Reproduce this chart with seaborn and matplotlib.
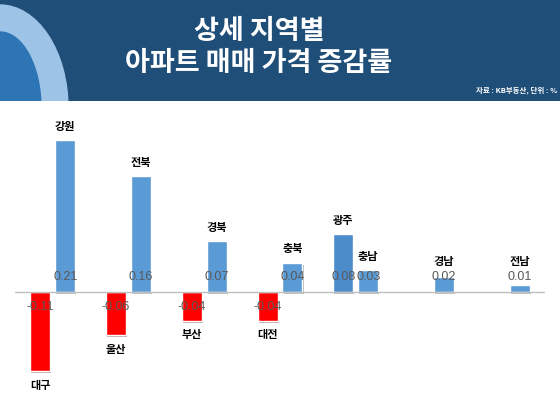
import numpy as np
import pandas as pd
import matplotlib
matplotlib.use('Agg')
import matplotlib.pyplot as plt
import matplotlib.patches as patches
import matplotlib.patheffects as pe
import seaborn as sns

# data: 7 pairs, left slot / right slot
groups = ['g1', 'g2', 'g3', 'g4', 'g5', 'g6', 'g7']
left_regions = ['대구', '울산', '부산', '대전', '광주', None, None]
left_values = [-0.11, -0.06, -0.04, -0.04, 0.08, np.nan, np.nan]
right_regions = ['강원', '전북', '경북', '충북', '충남', '경남', '전남']
right_values = [0.21, 0.16, 0.07, 0.04, 0.03, 0.02, 0.01]

title = '상세 지역별\n아파트 매매 가격 증감률'
source = '자료 : KB부동산, 단위 : %'

df = pd.concat([
    pd.DataFrame({'group': groups, 'side': 'L', 'region': left_regions, 'value': left_values}),
    pd.DataFrame({'group': groups, 'side': 'R', 'region': right_regions, 'value': right_values}),
]).dropna(subset=['value'])

sns.set_style('white')
plt.rcParams['font.family'] = ['Noto Sans CJK KR', 'DejaVu Sans']

fig = plt.figure(figsize=(5.6, 3.98), dpi=100)

# header band
hdr = fig.add_axes([0, 297 / 398, 1, 101 / 398])
hdr.set_xlim(0, 560)
hdr.set_ylim(101, 0)
hdr.axis('off')
hdr.add_patch(patches.Rectangle((0, 0), 560, 101, color='#1f4e79'))
hdr.add_patch(patches.Ellipse((0, 108), 136, 206, color='#9dc3e6'))
hdr.add_patch(patches.Ellipse((0, 108), 82, 152, color='#2e75b6'))
hdr.text(259, 47, title, color='white', fontsize=19.5, fontweight='bold',
         ha='center', va='center', linespacing=1.2)
hdr.text(557, 90, source, color='white', fontsize=5.4, fontweight='bold',
         ha='right', va='center')

# bars
ax = fig.add_axes([15 / 560, 5 / 398, 530 / 560, 282 / 398])
sns.barplot(data=df, x='group', y='value', hue='side', order=groups, hue_order=['L', 'R'],
            width=0.66, gap=0.2, errorbar=None, legend=False, ax=ax,
            palette={'L': '#ff0000', 'R': '#5b9bd5'}, saturation=1)
ax.set_ylim(-0.14, 0.25)
ax.set_xlim(-0.5, len(groups) - 0.5)
ax.axis('off')
ax.axhline(0, color='#bfbfbf', lw=1, zorder=1)

shadow = [pe.SimplePatchShadow(offset=(0.8, -1.5), alpha=0.35), pe.Normal()]
for cont, side in zip(ax.containers, ['L', 'R']):
    sub = df[df['side'] == side]
    for bar, (_, row) in zip(cont, sub.iterrows()):
        v = row['value']
        if v > 0:
            bar.set_facecolor('#4d8ccb' if side == 'L' else '#5b9bd5')
        else:
            bar.set_facecolor('#ff0000')
        bar.set_path_effects(shadow)
        xc = bar.get_x() + bar.get_width() / 2
        sgn = 1 if v > 0 else -1
        ax.annotate(f'{v:.2f}', xy=(xc, 0), xytext=(0, 10.8 * sgn), textcoords='offset points',
                    ha='center', va='center', fontsize=9, color='#595959',
                    family=['Liberation Sans', 'DejaVu Sans'], zorder=5)
        # keep small-bar names clear of the value label
        ly = max(v, 0.022) if v > 0 else v
        ax.annotate(row['region'], xy=(xc, ly), xytext=(0, 10 * sgn), textcoords='offset points',
                    ha='center', va='center', fontsize=8, fontweight='bold', color='black')

plt.savefig('out.png', dpi=100)
